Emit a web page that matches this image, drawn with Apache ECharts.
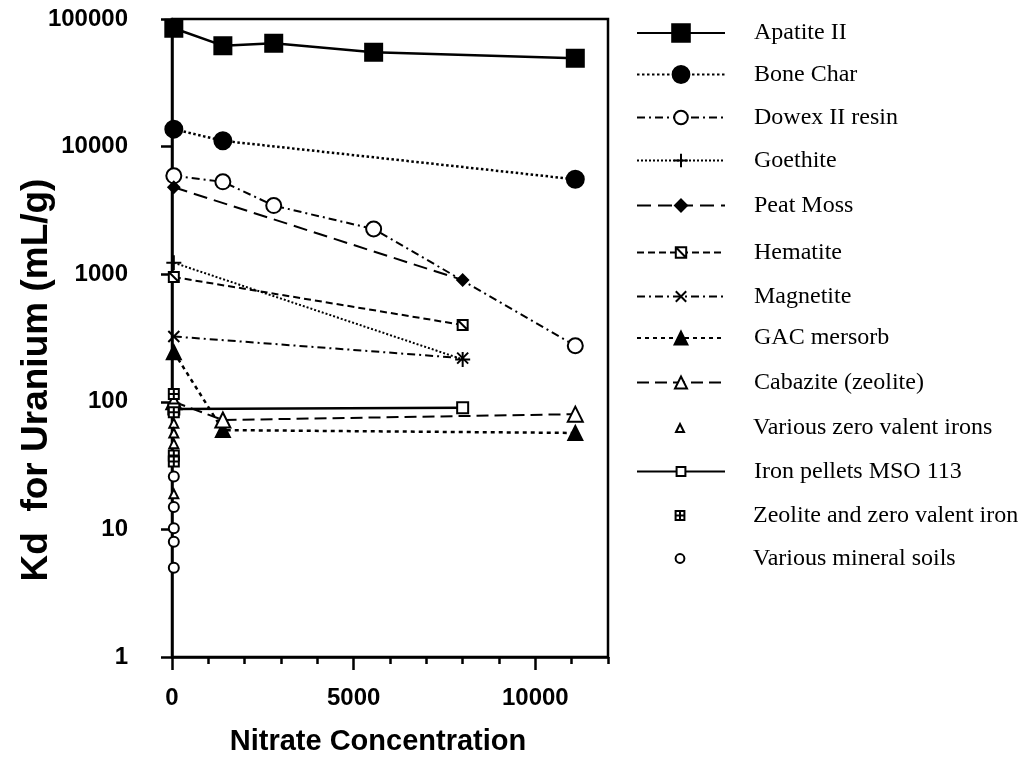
<!DOCTYPE html>
<html>
<head>
<meta charset="utf-8">
<script src="https://cdn.jsdelivr.net/npm/echarts@6/dist/echarts.min.js"></script>
<style>
html,body{margin:0;padding:0;background:#fff;}
#chart{width:1027px;height:762px;}
</style>
</head>
<body>
<div id="chart"></div>
<script>
// ---- data ----
const seriesNames = ['Apatite II','Bone Char','Dowex II resin','Goethite','Peat Moss','Hematite','Magnetite','GAC mersorb','Cabazite (zeolite)','Various zero valent irons','Iron pellets MSO 113','Zeolite and zero valent iron','Various mineral soils'];

const apatiteX = [50, 1400, 2800, 5550, 11100];
const apatiteY = [84600, 61800, 64500, 54800, 49200];
const boneCharX = [50, 1400, 11100];
const boneCharY = [13700, 11100, 5540];
const dowexX = [50, 1400, 2800, 5550, 11100];
const dowexY = [5900, 5300, 3450, 2260, 275];
const goethiteX = [50, 8000];
const goethiteY = [1230, 215];
const peatMossX = [50, 8000];
const peatMossY = [4800, 900];
const hematiteX = [50, 8000];
const hematiteY = [950, 400];
const magnetiteX = [50, 8000];
const magnetiteY = [325, 220];
const gacX = [50, 1400, 11100];
const gacY = [245, 60, 57];
const cabaziteX = [50, 1400, 11100];
const cabaziteY = [100, 72, 80];
const zviX = [50, 50, 50, 50];
const zviY = [68, 57, 47, 19];
const ironPelletsX = [50, 8000];
const ironPelletsY = [88, 90];
const zeoZviX = [50, 50, 50, 50];
const zeoZviY = [115, 83, 38, 34];
const mineralX = [50, 50, 50, 50, 50];
const mineralY = [26, 15, 10.2, 8, 5];

const xMinorTicks = [0,1000,2000,3000,4000,5000,6000,7000,8000,9000,10000,11000,12000];
const xMajorTicks = [0, 5000, 10000];
const xTickLabels = [0, 5000, 10000];

// ---- styling ----
const plusPath = 'path://M0,5 L10,5 M5,0 L5,10';
const crossPath = 'path://M0,0 L10,10 M10,0 L0,10';
const hemPath = 'path://M0,0 L10,0 L10,10 L0,10 Z M0,0 L10,10';
const gridPath = 'path://M0,0 L10,0 L10,10 L0,10 Z M5,0 L5,10 M0,5 L10,5';

function pts(xs, ys){ return xs.map((x,i)=>[x, ys[i]]); }

const styles = [
  {d:pts(apatiteX,apatiteY), sym:'rect', size:17, fill:'#000', lw:2.5, dash:'solid', legH:22},
  {d:pts(boneCharX,boneCharY), sym:'circle', size:17, fill:'#000', lw:2.5, dash:[2.5,2.5], legH:21},
  {d:pts(dowexX,dowexY), sym:'emptyCircle', size:15, fill:'#000', lw:2, dash:[8,4,2,4], legH:17},
  {d:pts(goethiteX,goethiteY), sym:plusPath, size:15, fill:'#fff', lw:2, dash:[2,2], legH:17},
  {d:pts(peatMossX,peatMossY), sym:'diamond', size:11, fill:'#000', lw:2, dash:[14,7], legH:15},
  {d:pts(hematiteX,hematiteY), sym:hemPath, size:10, fill:'#fff', lw:2, dash:[7,4], legH:13},
  {d:pts(magnetiteX,magnetiteY), sym:crossPath, size:11, fill:'#fff', lw:2, dash:[8,4,2,4], legH:13},
  {d:pts(gacX,gacY), sym:'triangle', size:14, fill:'#000', lw:2.5, dash:[4,4], legH:16},
  {d:pts(cabaziteX,cabaziteY), sym:'emptyTriangle', size:15, fill:'#000', lw:2, dash:[12,6], legH:15},
  {d:pts(zviX,zviY), sym:'emptyTriangle', size:9, fill:'#000', lw:0, dash:'solid', legH:10},
  {d:pts(ironPelletsX,ironPelletsY), sym:'emptyRect', size:11, fill:'#000', lw:2.5, dash:'solid', legH:11},
  {d:pts(zeoZviX,zeoZviY), sym:gridPath, size:10, fill:'#fff', lw:0, dash:'solid', legH:11},
  {d:pts(mineralX,mineralY), sym:'emptyCircle', size:10, fill:'#000', lw:0, dash:'solid', legH:11}
];
const legendCenters = [32, 73, 114, 157, 201, 247, 291, 334, 378, 421, 465, 509, 552];

const series = styles.map((s,i)=>({
  name: seriesNames[i],
  type: 'line',
  data: s.d,
  symbol: s.sym,
  symbolSize: s.size,
  showSymbol: true,
  z: 2 + i,
  itemStyle: {color: s.fill, borderColor:'#000', borderWidth: 2},
  lineStyle: {color:'#000', width: s.lw, type: s.dash, opacity: s.lw > 0 ? 1 : 0},
  emphasis: {disabled: true},
  animation: false
}));

const legends = styles.map((s,i)=>({
  show: true,
  orient: 'vertical',
  left: 636,
  top: legendCenters[i] - s.legH/2,
  padding: 0,
  itemWidth: 88,
  itemHeight: s.legH,
  selectedMode: false,
  data: [seriesNames[i]],
  textStyle: {fontFamily:'Liberation Serif', fontSize: 24, color:'#000', padding:[0,0,0,24]}
}));

const labelFont = "'Liberation Sans', Arial";
const plainNum = v => String(v);

const chart = echarts.init(document.getElementById('chart'), null, {renderer:'canvas'});
chart.setOption({
  animation: false,
  backgroundColor: '#fff',
  grid: {left:172, top:19, width:436, height:638, show:true, borderColor:'#000', borderWidth:2.5, backgroundColor:'transparent', outerBoundsMode:'none', containLabel:false},
  legend: legends,
  xAxis: [{
    type:'value', min:0, max:12000, interval:1000,
    axisLine:{show:true, onZero:false, lineStyle:{color:'#000', width:2.5}},
    axisTick:{show:true, length:7, customValues:xMinorTicks, lineStyle:{color:'#000', width:2.5}},
    axisLabel:{customValues:xTickLabels, formatter:plainNum, margin:29, color:'#000', fontFamily:labelFont, fontWeight:'bold', fontSize:24},
    splitLine:{show:false},
    name:'Nitrate Concentration', nameLocation:'middle', nameGap:70, nameMoveOverlap:false,
    nameTextStyle:{color:'#000', fontFamily:labelFont, fontWeight:'bold', fontSize:29, padding:[0,24,0,0]}
  },{
    type:'value', min:0, max:12000, interval:5000, position:'bottom',
    axisLine:{show:false},
    axisTick:{show:true, length:13, customValues:xMajorTicks, lineStyle:{color:'#000', width:2.5}},
    axisLabel:{show:false},
    splitLine:{show:false}
  }],
  yAxis: {
    type:'log', logBase:10, min:1, max:100000,
    axisLine:{show:true, onZero:false, lineStyle:{color:'#000', width:2.5}},
    axisTick:{show:true, length:11, lineStyle:{color:'#000', width:2.5}},
    minorTick:{show:false},
    axisLabel:{formatter:plainNum, margin:44, color:'#000', fontFamily:labelFont, fontWeight:'bold', fontSize:24},
    splitLine:{show:false},
    name:'Kd  for Uranium (mL/g)', nameLocation:'middle', nameGap:117, nameMoveOverlap:false,
    nameTextStyle:{color:'#000', fontFamily:labelFont, fontWeight:'bold', fontSize:37, padding:[0,84,0,0]}
  },
  series: series
});
</script>
</body>
</html>
